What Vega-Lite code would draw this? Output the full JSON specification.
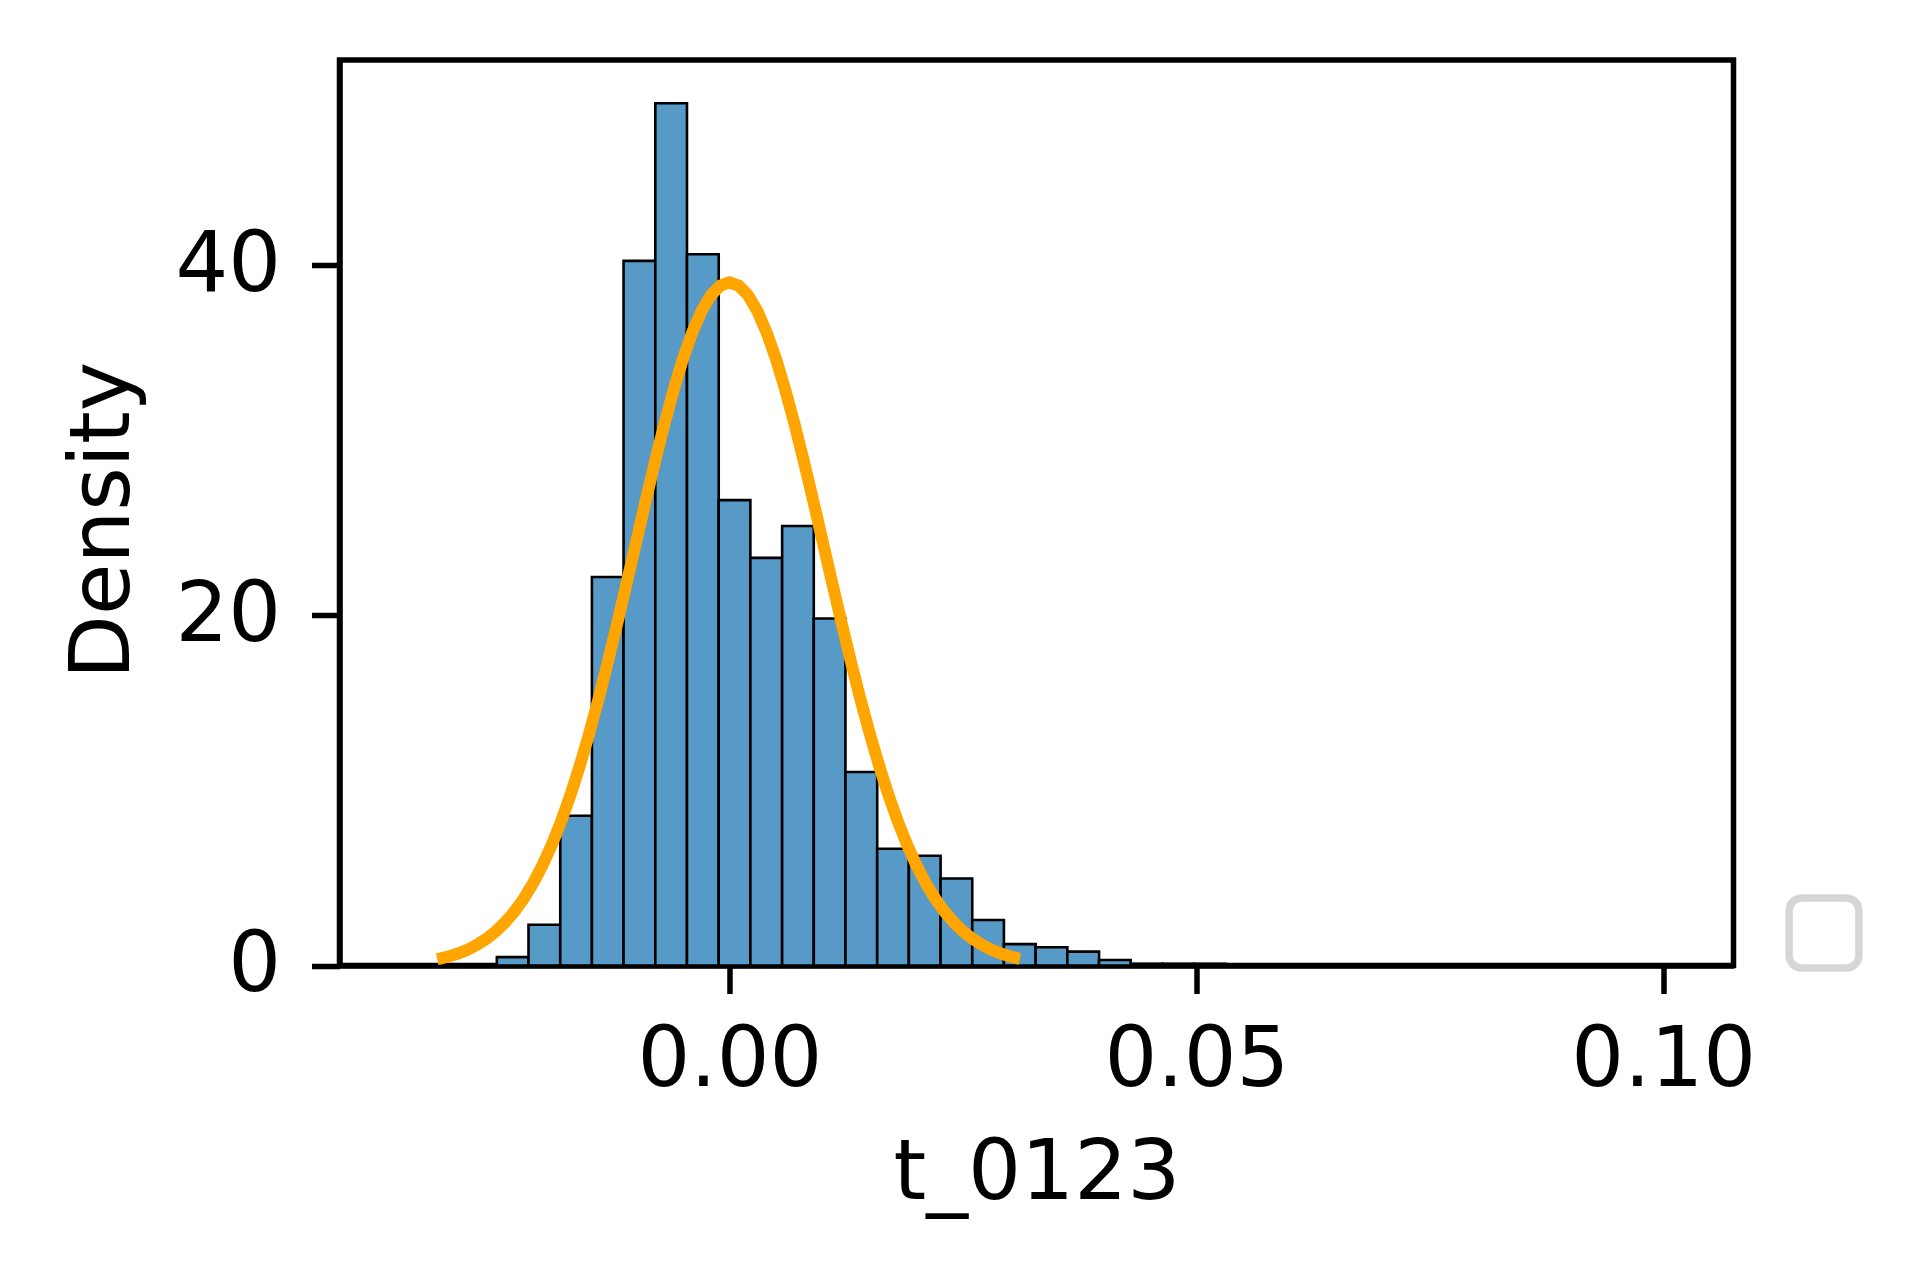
{
  "$schema": "https://vega.github.io/schema/vega-lite/v6.json",
  "autosize": {"type": "none"},
  "padding": {"left": 339.5, "top": 60, "right": 182.5, "bottom": 315.5},
  "width": 1394,
  "height": 905.5,
  "background": "white",
  "config": {
    "view": {"stroke": "black", "strokeWidth": 5.5},
    "font": "DejaVu Sans",
    "axis": {
      "labelFont": "DejaVu Sans", "titleFont": "DejaVu Sans",
      "labelFontSize": 83, "titleFontSize": 83.5,
      "labelColor": "black", "titleColor": "black",
      "titleFontWeight": "normal", "labelLimit": 0,
      "tickColor": "black", "tickWidth": 5.5, "tickSize": 28,
      "domainColor": "black", "domainWidth": 5.5,
      "grid": false, "zindex": 1
    }
  },
  "datasets": {
    "bars": [
      {"x0": -0.02491, "x1": -0.02152, "density": 0.48},
      {"x0": -0.02152, "x1": -0.01812, "density": 2.33},
      {"x0": -0.01812, "x1": -0.01473, "density": 8.56},
      {"x0": -0.01473, "x1": -0.01134, "density": 22.2},
      {"x0": -0.01134, "x1": -0.00794, "density": 40.26},
      {"x0": -0.00794, "x1": -0.00455, "density": 49.27},
      {"x0": -0.00455, "x1": -0.00115, "density": 40.64},
      {"x0": -0.00115, "x1": 0.00224, "density": 26.59},
      {"x0": 0.00224, "x1": 0.00564, "density": 23.29},
      {"x0": 0.00564, "x1": 0.00903, "density": 25.11},
      {"x0": 0.00903, "x1": 0.01242, "density": 19.83},
      {"x0": 0.01242, "x1": 0.01582, "density": 11.06},
      {"x0": 0.01582, "x1": 0.01921, "density": 6.67},
      {"x0": 0.01921, "x1": 0.02261, "density": 6.27},
      {"x0": 0.02261, "x1": 0.026, "density": 4.97},
      {"x0": 0.026, "x1": 0.02939, "density": 2.6},
      {"x0": 0.02939, "x1": 0.03279, "density": 1.22},
      {"x0": 0.03279, "x1": 0.03618, "density": 1.04},
      {"x0": 0.03618, "x1": 0.03958, "density": 0.79},
      {"x0": 0.03958, "x1": 0.04297, "density": 0.31},
      {"x0": 0.04297, "x1": 0.04636, "density": 0.1},
      {"x0": 0.04636, "x1": 0.04976, "density": 0.1},
      {"x0": 0.04976, "x1": 0.05315, "density": 0.1}
    ],
    "curve": [
      {"x": -0.0313, "y": 0.359},
      {"x": -0.031, "y": 0.392},
      {"x": -0.030, "y": 0.525},
      {"x": -0.029, "y": 0.697},
      {"x": -0.028, "y": 0.915},
      {"x": -0.027, "y": 1.191},
      {"x": -0.026, "y": 1.535},
      {"x": -0.025, "y": 1.959},
      {"x": -0.024, "y": 2.477},
      {"x": -0.023, "y": 3.102},
      {"x": -0.022, "y": 3.847},
      {"x": -0.021, "y": 4.727},
      {"x": -0.020, "y": 5.753},
      {"x": -0.019, "y": 6.933},
      {"x": -0.018, "y": 8.276},
      {"x": -0.017, "y": 9.786},
      {"x": -0.016, "y": 11.46},
      {"x": -0.015, "y": 13.29},
      {"x": -0.014, "y": 15.27},
      {"x": -0.013, "y": 17.38},
      {"x": -0.012, "y": 19.59},
      {"x": -0.011, "y": 21.87},
      {"x": -0.010, "y": 24.18},
      {"x": -0.009, "y": 26.49},
      {"x": -0.008, "y": 28.73},
      {"x": -0.007, "y": 30.87},
      {"x": -0.006, "y": 32.85},
      {"x": -0.005, "y": 34.63},
      {"x": -0.004, "y": 36.15},
      {"x": -0.003, "y": 37.38},
      {"x": -0.002, "y": 38.29},
      {"x": -0.001, "y": 38.84},
      {"x": 0.000, "y": 39.03},
      {"x": 0.001, "y": 38.84},
      {"x": 0.002, "y": 38.29},
      {"x": 0.003, "y": 37.38},
      {"x": 0.004, "y": 36.15},
      {"x": 0.005, "y": 34.63},
      {"x": 0.006, "y": 32.85},
      {"x": 0.007, "y": 30.87},
      {"x": 0.008, "y": 28.73},
      {"x": 0.009, "y": 26.49},
      {"x": 0.010, "y": 24.18},
      {"x": 0.011, "y": 21.87},
      {"x": 0.012, "y": 19.59},
      {"x": 0.013, "y": 17.38},
      {"x": 0.014, "y": 15.27},
      {"x": 0.015, "y": 13.29},
      {"x": 0.016, "y": 11.46},
      {"x": 0.017, "y": 9.786},
      {"x": 0.018, "y": 8.276},
      {"x": 0.019, "y": 6.933},
      {"x": 0.020, "y": 5.753},
      {"x": 0.021, "y": 4.727},
      {"x": 0.022, "y": 3.847},
      {"x": 0.023, "y": 3.102},
      {"x": 0.024, "y": 2.477},
      {"x": 0.025, "y": 1.959},
      {"x": 0.026, "y": 1.535},
      {"x": 0.027, "y": 1.191},
      {"x": 0.028, "y": 0.915},
      {"x": 0.029, "y": 0.697},
      {"x": 0.030, "y": 0.525},
      {"x": 0.031, "y": 0.392},
      {"x": 0.0311, "y": 0.381}
    ],
    "legendbox": [
      {"x": 0, "y": 0, "item": "box"}
    ]
  },
  "layer": [
    {
      "data": {"name": "bars"},
      "mark": {"type": "rect", "fill": "#5799c7", "stroke": "black", "strokeWidth": 2.6},
      "encoding": {
        "x": {
          "field": "x0", "type": "quantitative",
          "scale": {"domain": [-0.04176, 0.10752], "nice": false, "zero": false},
          "axis": {"values": [0, 0.05, 0.1], "format": ".2f", "title": "t_0123", "labelPadding": 26, "titlePadding": 30, "labelFlush": false}
        },
        "x2": {"field": "x1"},
        "y": {
          "field": "density", "type": "quantitative",
          "scale": {"domain": [0, 51.74], "nice": false},
          "axis": {"values": [0, 20, 40], "title": "Density", "labelPadding": 31, "titlePadding": 28, "titleY": 460, "labelFlush": false}
        },
        "y2": {"datum": 0}
      }
    },
    {
      "data": {"name": "curve"},
      "mark": {"type": "line", "strokeWidth": 12, "strokeCap": "butt", "color": "#ffa500", "clip": false},
      "encoding": {
        "x": {"field": "x", "type": "quantitative"},
        "y": {"field": "y", "type": "quantitative"}
      }
    },
    {
      "data": {"name": "legendbox"},
      "mark": {"type": "point", "opacity": 0, "size": 1},
      "encoding": {
        "x": {"field": "x", "type": "quantitative"},
        "y": {"field": "y", "type": "quantitative"},
        "shape": {
          "field": "item", "type": "nominal",
          "scale": {"range": ["M -1,-0.64 A 0.36 0.36 0 0 1 -0.64,-1 L 0.64,-1 A 0.36 0.36 0 0 1 1,-0.64 L 1,0.64 A 0.36 0.36 0 0 1 0.64,1 L -0.64,1 A 0.36 0.36 0 0 1 -1,0.64 Z"]},
          "legend": {
            "orient": "none", "legendX": 1445.5, "legendY": 834,
            "title": null, "labelExpr": "''", "labelFontSize": 1, "labelOffset": 0,
            "padding": 0, "symbolSize": 4880, "symbolOpacity": 1,
            "symbolStrokeColor": "#d6d6d6", "symbolStrokeWidth": 7.5, "symbolFillColor": "white"
          }
        }
      }
    }
  ]
}
